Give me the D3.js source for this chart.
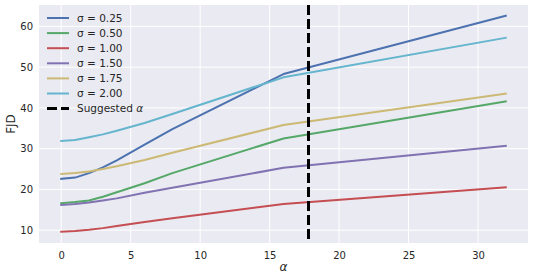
<!DOCTYPE html>
<html>
<head>
<meta charset="utf-8">
<script src="https://d3js.org/d3.v7.min.js"></script>
<style>
body { margin: 0; background: #fff; }
text { font-family: "DejaVu Sans", sans-serif; fill: #262626; }
</style>
</head>
<body>
<div id="chart"></div>
<script>
// alpha values on the x axis
var alphas = [0, 1, 2, 3, 4, 6, 8, 16, 32];

// FJD for each sigma
var sigmaLabels = ["\u03c3 = 0.25", "\u03c3 = 0.50", "\u03c3 = 1.00", "\u03c3 = 1.50", "\u03c3 = 1.75", "\u03c3 = 2.00"];
var fjd025 = [22.6, 22.9, 24.0, 25.4, 27.1, 31.0, 34.8, 48.3, 62.6];
var fjd050 = [16.6, 16.9, 17.3, 18.2, 19.3, 21.5, 24.0, 32.5, 41.6];
var fjd100 = [9.6, 9.8, 10.1, 10.5, 11.0, 12.0, 12.9, 16.4, 20.5];
var fjd150 = [16.2, 16.4, 16.8, 17.3, 17.8, 19.2, 20.4, 25.3, 30.7];
var fjd175 = [23.8, 24.0, 24.4, 25.0, 25.7, 27.2, 29.0, 35.8, 43.5];
var fjd200 = [31.9, 32.1, 32.8, 33.5, 34.4, 36.3, 38.5, 47.5, 57.2];
var colors = ["#4C72B0", "#55A868", "#C44E52", "#8172B2", "#CCB974", "#64B5CD"];

var suggestedAlpha = 17.8;
var xTicks = [0, 5, 10, 15, 20, 25, 30];
var yTicks = [10, 20, 30, 40, 50, 60];

var series = [fjd025, fjd050, fjd100, fjd150, fjd175, fjd200];

var W = 533, H = 279;
var margin = {top: 5, right: 5, bottom: 36, left: 39};
var width = W - margin.left - margin.right,
    height = H - margin.top - margin.bottom;

var svg = d3.select("#chart").append("svg")
    .attr("width", W).attr("height", H);

var g = svg.append("g")
    .attr("transform", "translate(" + margin.left + "," + margin.top + ")");

var x = d3.scaleLinear().domain([-1.6, 33.6]).range([0, width]);
var y = d3.scaleLinear().domain([6.85, 65.25]).range([height, 0]);

// background
g.append("rect").attr("width", width).attr("height", height).attr("fill", "#EAEAF2");

// grid
g.selectAll(".gx").data(xTicks).enter().append("line")
  .attr("x1", d => x(d)).attr("x2", d => x(d))
  .attr("y1", 0).attr("y2", height)
  .attr("stroke", "#fff").attr("stroke-width", 1);
g.selectAll(".gy").data(yTicks).enter().append("line")
  .attr("y1", d => y(d)).attr("y2", d => y(d))
  .attr("x1", 0).attr("x2", width)
  .attr("stroke", "#fff").attr("stroke-width", 1);

// axes
var xAxis = g.append("g")
  .attr("transform", "translate(0," + height + ")")
  .call(d3.axisBottom(x).tickValues(xTicks).tickSize(0).tickPadding(9));
var yAxis = g.append("g")
  .call(d3.axisLeft(y).tickValues(yTicks).tickSize(0).tickPadding(6));
[xAxis, yAxis].forEach(function(a) {
  a.select(".domain").remove();
  a.selectAll("text").style("font-size", "10px").attr("fill", "#262626");
});

// lines
var line = d3.line()
  .x((d, i) => x(alphas[i]))
  .y(d => y(d));

series.forEach(function(s, i) {
  g.append("path")
    .datum(s)
    .attr("d", line)
    .attr("fill", "none")
    .attr("stroke", colors[i])
    .attr("stroke-width", 2)
    .attr("stroke-linejoin", "round")
    .attr("stroke-linecap", "square");
});

// suggested alpha
g.append("line")
  .attr("x1", x(suggestedAlpha)).attr("x2", x(suggestedAlpha))
  .attr("y1", 0).attr("y2", height)
  .attr("stroke", "#000").attr("stroke-width", 3)
  .attr("stroke-dasharray", "10,4");

// axis labels
svg.append("text")
  .attr("x", margin.left + x(16)).attr("y", 271)
  .attr("text-anchor", "middle")
  .style("font-size", "12px").style("font-style", "italic")
  .text("\u03b1");
svg.append("text")
  .attr("transform", "translate(15," + (margin.top + height / 2) + ") rotate(-90)")
  .attr("text-anchor", "middle")
  .style("font-size", "12px")
  .text("FJD");

// legend
var legend = svg.append("g").attr("transform", "translate(47,18)");
var items = sigmaLabels.concat(["Suggested \u03b1"]);
items.forEach(function(lab, i) {
  var row = legend.append("g").attr("transform", "translate(0," + (i * 15.1) + ")");
  var ln = row.append("line").attr("x1", 0).attr("x2", 22).attr("y1", 0).attr("y2", 0);
  if (i < 6) {
    ln.attr("stroke", colors[i]).attr("stroke-width", 2);
  } else {
    ln.attr("stroke", "#000").attr("stroke-width", 3).attr("stroke-dasharray", "10,4");
  }
  var t = row.append("text").attr("x", 30).attr("y", 3.8).style("font-size", "10.5px");
  if (i < 6) {
    t.text(lab);
  } else {
    t.text("Suggested ");
    t.append("tspan").style("font-style", "italic").text("\u03b1");
  }
});
</script>
</body>
</html>
